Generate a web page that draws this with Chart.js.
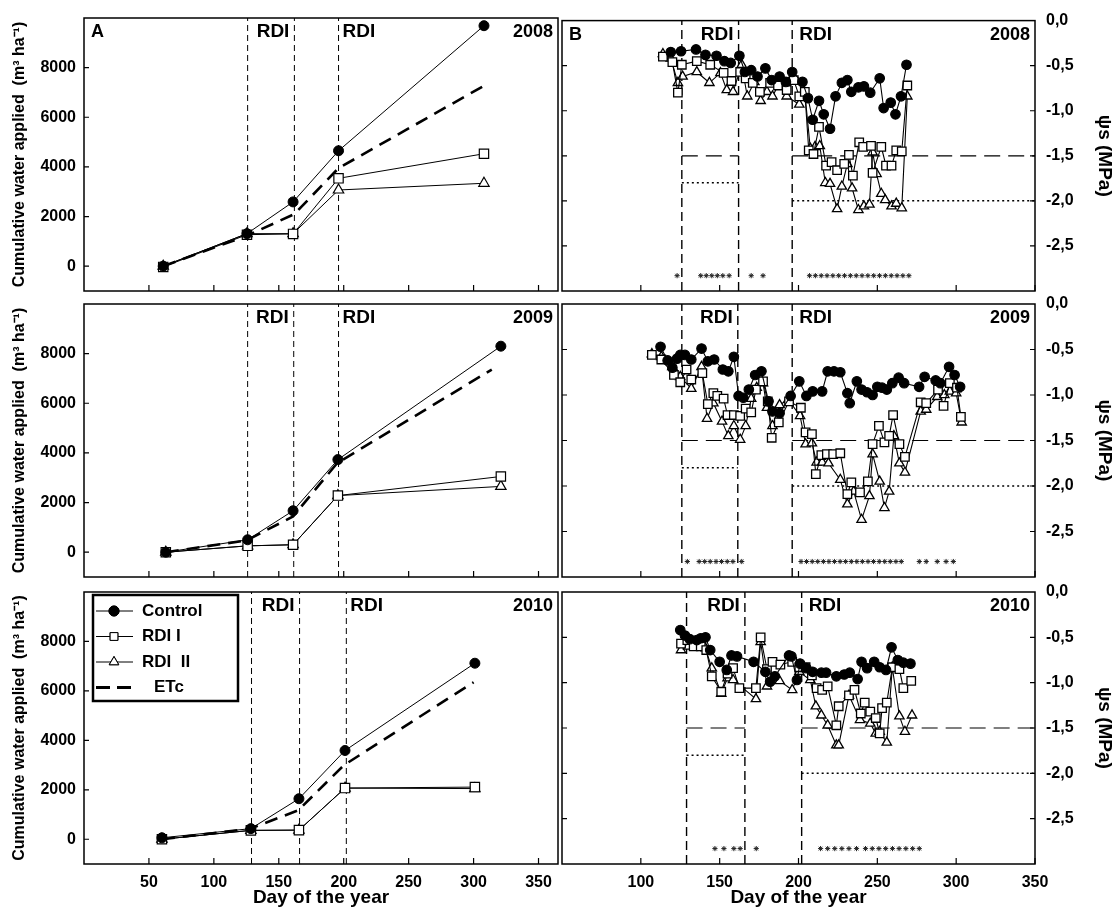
<!DOCTYPE html>
<html>
<head>
<meta charset="utf-8">
<script src="https://cdn.jsdelivr.net/npm/chart.js@4.4.1/dist/chart.umd.min.js"></script>
<style>
  body { margin: 0; background: #fff; }
  #wrap { position: relative; width: 1116px; height: 909px; }
  #wrap canvas { position: absolute; left: 0; top: 0; }
</style>
</head>
<body>
<div id="wrap">
  <canvas id="a2008" width="1116" height="909"></canvas>
  <canvas id="a2009" width="1116" height="909"></canvas>
  <canvas id="a2010" width="1116" height="909"></canvas>
  <canvas id="b2008" width="1116" height="909"></canvas>
  <canvas id="b2009" width="1116" height="909"></canvas>
  <canvas id="b2010" width="1116" height="909"></canvas>
</div>
<script>
// ---- tick labels ----
const leftXTicks = [50, 100, 150, 200, 250, 300, 350];
const leftYTicks = [0, 2000, 4000, 6000, 8000];
const rightXTicks = [100, 150, 200, 250, 300, 350];
const rightYTicks = [0, -0.5, -1, -1.5, -2, -2.5];

// ---- panel A: cumulative water applied (m3/ha) ----
const water2008Days = [61, 125.5, 161, 196, 308];
const water2008Control = [0, 1310, 2590, 4650, 9690];
const water2008RdiI = [-30, 1270, 1300, 3540, 4530];
const water2008RdiII = [0, 1310, 1310, 3070, 3340];
const water2008EtcDays = [61, 125.5, 162, 196, 309];
const water2008Etc = [0, 1230, 2100, 3950, 7300];

const water2009Days = [63, 126, 161, 195.5, 321];
const water2009Control = [0, 500, 1670, 3730, 8300];
const water2009RdiI = [0, 255, 300, 2280, 3050];
const water2009RdiII = [0, 255, 300, 2280, 2650];
const water2009EtcDays = [63, 125, 161, 195, 314];
const water2009Etc = [0, 470, 1440, 3590, 7360];

const water2010Days = [60, 128.5, 165.5, 201, 301];
const water2010Control = [60, 430, 1640, 3590, 7120];
const water2010RdiI = [0, 360, 370, 2070, 2110];
const water2010RdiII = [0, 360, 370, 2070, 2050];
const water2010EtcDays = [60, 128, 165, 200, 300];
const water2010Etc = [0, 430, 1170, 2990, 6350];

// RDI period boundaries (day of year)
const rdi2008 = [126, 162, 196];
const rdi2009 = [126, 161.5, 196];
const rdi2010 = [129, 166, 202];

// ---- panel B: stem water potential (MPa), [day, value] ----
const psi2008Control = [[119,-0.35],[125.5,-0.34],[135,-0.32],[141,-0.38],[148,-0.39],[153,-0.45],[157,-0.47],[162.5,-0.39],[166,-0.57],[170,-0.55],[174,-0.62],[179,-0.53],[183,-0.66],[188,-0.62],[192,-0.68],[196,-0.57],[202.5,-0.68],[206,-0.86],[209,-1.10],[213,-0.89],[216,-1.04],[220,-1.20],[223.5,-0.84],[227.5,-0.69],[231,-0.66],[233.5,-0.79],[238,-0.74],[241.5,-0.73],[245.5,-0.80],[251.5,-0.64],[254,-0.97],[258.5,-0.91],[261.5,-1.04],[265,-0.84],[268.5,-0.49]];
const psi2008RdiI = [[114,-0.40],[120,-0.46],[123.5,-0.80],[126,-0.49],[135.5,-0.45],[144,-0.49],[152.5,-0.58],[157.5,-0.67],[163,-0.57],[166.5,-0.64],[171,-0.69],[175.5,-0.79],[182,-0.69],[187,-0.72],[192.5,-0.77],[197,-0.66],[200.5,-0.84],[204,-0.79],[206.5,-1.44],[209.5,-1.48],[213,-1.18],[217.5,-1.61],[221,-1.57],[224.5,-1.66],[229,-1.59],[232,-1.49],[234.5,-1.72],[238.5,-1.35],[241,-1.40],[246,-1.39],[247,-1.69],[252.5,-1.40],[255.5,-1.61],[259,-1.61],[262,-1.44],[265.5,-1.45],[269,-0.72]];
const psi2008RdiII = [[114,-0.37],[119,-0.42],[123.5,-0.69],[126.5,-0.62],[135.5,-0.57],[143.5,-0.69],[150.5,-0.58],[154.5,-0.77],[158.5,-0.79],[164,-0.49],[167.5,-0.84],[172,-0.68],[176,-0.89],[180,-0.79],[183.5,-0.84],[188,-0.69],[192.5,-0.84],[200.5,-0.93],[204,-0.80],[207.5,-1.42],[210.5,-1.40],[213.5,-1.39],[217,-1.80],[220,-1.81],[224.5,-2.09],[227.5,-1.84],[231,-1.59],[234,-1.86],[238,-2.10],[241.5,-2.06],[245,-2.04],[247,-1.46],[249.5,-1.70],[252.5,-1.92],[255,-1.99],[259,-2.06],[262,-2.03],[265.5,-2.08],[269,-0.84]];

const psi2009Control = [[112.5,-0.47],[117,-0.62],[120,-0.70],[123,-0.60],[125,-0.56],[128,-0.56],[132,-0.61],[138.5,-0.49],[142.5,-0.63],[146.5,-0.61],[152,-0.72],[155.5,-0.74],[159,-0.58],[162,-1.01],[165,-1.03],[168.5,-0.94],[172.5,-0.78],[176.5,-0.74],[181,-1.07],[183.5,-1.18],[188,-1.20],[195,-1.01],[200.5,-0.85],[205,-1.01],[209,-0.96],[215,-0.96],[218.5,-0.74],[222.5,-0.74],[226.5,-0.75],[231,-0.98],[232.5,-1.09],[237,-0.85],[240,-0.94],[243.5,-0.97],[247,-1.00],[250,-0.91],[253,-0.92],[256,-0.94],[259.5,-0.87],[263.5,-0.81],[267,-0.87],[276.5,-0.91],[280,-0.80],[287,-0.84],[290,-0.87],[295.5,-0.69],[299,-0.78],[302.5,-0.91]];
const psi2009RdiI = [[107,-0.56],[113,-0.61],[121,-0.78],[125,-0.86],[129,-0.72],[132,-0.83],[139,-0.76],[142.5,-1.10],[146,-0.98],[148.5,-1.01],[152.5,-1.04],[155,-1.22],[159,-1.22],[163,-1.23],[166.5,-1.15],[170,-1.19],[173,-0.94],[177.5,-0.85],[180.5,-1.07],[183,-1.47],[187.5,-1.30],[194,-1.07],[201.5,-1.14],[204.5,-1.41],[208.5,-1.43],[211,-1.87],[214.5,-1.66],[218,-1.65],[222,-1.65],[226.5,-1.64],[231,-2.09],[233.5,-1.96],[239,-2.07],[244,-1.95],[247,-1.54],[251,-1.34],[254.5,-1.52],[257.5,-1.45],[260,-1.22],[264,-1.54],[267.5,-1.68],[277.5,-1.08],[281,-1.09],[288.5,-0.94],[292,-1.12],[296,-0.87],[300.5,-0.92],[303,-1.24]];
const psi2009RdiII = [[107,-0.55],[113,-0.58],[120,-0.69],[125,-0.80],[132,-0.93],[138.5,-0.69],[142,-1.26],[146,-1.09],[151.5,-1.29],[155.5,-1.45],[159,-1.34],[163,-1.49],[166.5,-1.34],[170,-1.04],[173.5,-0.92],[177.5,-0.87],[180,-1.14],[183.5,-1.34],[188,-1.11],[193.5,-1.05],[201,-1.23],[204.5,-1.54],[208.5,-1.53],[211.5,-1.74],[215,-1.74],[219,-1.75],[226.5,-1.93],[231,-2.20],[235,-2.06],[240,-2.37],[245,-2.11],[247,-1.65],[251.5,-1.95],[254.5,-2.24],[257.5,-2.06],[260.5,-1.45],[264,-1.75],[267.5,-1.85],[277.5,-1.18],[281,-1.16],[288,-1.02],[292.5,-1.00],[296,-0.96],[300,-0.98],[303.5,-1.30]];

const psi2010Control = [[125,-0.42],[128,-0.48],[131,-0.52],[135.5,-0.53],[138,-0.51],[141,-0.50],[144,-0.64],[150,-0.77],[154.5,-0.86],[157.5,-0.70],[161,-0.71],[171.5,-0.77],[179,-0.88],[182,-0.99],[185,-0.93],[194,-0.70],[195.5,-0.71],[199,-0.97],[201,-0.79],[205,-0.84],[209,-0.88],[214.5,-0.89],[217.5,-0.89],[224,-0.93],[229,-0.91],[232.5,-0.89],[237.5,-0.96],[240,-0.77],[243.5,-0.84],[248,-0.77],[251.5,-0.83],[255.5,-0.86],[259,-0.61],[263,-0.75],[266.5,-0.78],[271,-0.79]];
const psi2010RdiI = [[125.5,-0.57],[129.5,-0.53],[133.5,-0.60],[138,-0.60],[141.5,-0.64],[145,-0.93],[151,-1.10],[155,-0.90],[158.5,-0.84],[162.5,-1.06],[173,-1.06],[176,-0.50],[180,-0.85],[183.5,-0.77],[188.5,-0.80],[196,-0.77],[200.5,-0.83],[204.5,-0.83],[208.5,-0.92],[211.5,-1.06],[215,-1.08],[218.5,-1.04],[224,-1.47],[225.5,-1.26],[232,-1.14],[235.5,-1.08],[239.5,-1.34],[242,-1.22],[245.5,-1.32],[249,-1.39],[251.5,-1.56],[253,-1.28],[256,-1.22],[259.5,-0.83],[264,-0.85],[266.5,-1.06],[271.5,-0.98]];
const psi2010RdiII = [[125.5,-0.64],[130,-0.60],[141,-0.62],[145,-0.84],[151,-1.12],[155,-0.95],[158.5,-0.97],[173,-1.18],[176,-0.55],[180,-1.04],[188,-0.98],[196,-1.08],[200.5,-0.88],[207.5,-0.97],[211,-1.26],[214.5,-1.36],[218.5,-1.47],[224,-1.69],[225.5,-1.69],[232,-1.14],[239,-1.41],[245.5,-1.45],[249,-1.56],[251.5,-1.54],[256,-1.66],[259.5,-0.83],[264,-1.37],[267.5,-1.54],[272,-1.36]];

// significance marks (*), day of year
const stars2008 = [123, 138, 141.5, 145, 148.5, 152, 156, 170, 177.5, 207, 210.7, 214.4, 218.1, 221.8, 225.5, 229.2, 232.9, 236.6, 240.3, 244, 247.7, 251.4, 255.1, 258.8, 262.5, 266.2, 270];
const stars2009 = [129.5, 137, 140.5, 144, 147.7, 151.2, 154.8, 158.4, 164, 201.6, 205.1, 208.7, 212.2, 215.8, 219.3, 222.8, 226.4, 229.9, 233.5, 237, 240.5, 244.1, 247.6, 251.2, 254.7, 258.2, 261.8, 265.2, 276.6, 281, 288, 293.6, 298.2];
const stars2010 = [147, 152.7, 159, 163, 173.2, 214, 218.5, 223, 227.5, 232, 236.8, 242.5, 246.8, 251, 255.3, 259.6, 263.8, 268.1, 272.4, 276.6];
const starLevel = -2.83;

// threshold lines: [first RDI period, second RDI period]
const dashedThreshold = [-1.5, -1.5];
const dottedThreshold = [-1.8, -2.0];

// ---- layout ----
const ROWS = [{ top: 18, bottom: 291 }, { top: 304, bottom: 577 }, { top: 592, bottom: 864 }];
const W = 1116, H = 909;
const FONT = '"Liberation Sans", Arial, sans-serif';

Chart.defaults.font.family = FONT;
Chart.defaults.font.weight = 'bold';
Chart.defaults.color = '#000';

function xy(days, vals) {
    return days.map((d, i) => ({ x: d, y: vals[i] }));
}
function pairs(list) {
    return list.map(p => ({ x: p[0], y: p[1] }));
}

function vLine(day, y0, y1, width, dash) {
    return { data: [{ x: day, y: y0 }, { x: day, y: y1 }], showLine: true, borderColor: '#000',
        borderWidth: width, borderDash: dash, pointRadius: 0, order: 10 };
}

const markerStyles = {
    control: { pointStyle: 'circle', backgroundColor: '#000' },
    rdiI: { pointStyle: 'rect', backgroundColor: '#fff' },
    rdiII: { pointStyle: 'triangle', backgroundColor: '#fff' }
};

function deco(opts) {
    return {
        id: 'deco',
        afterDatasetsDraw(chart) {
            const { ctx, chartArea: a, scales } = chart;
            const x = scales.x, y = scales.y;
            ctx.save();
            ctx.strokeStyle = '#000';
            ctx.fillStyle = '#000';
            // inner tick marks
            ctx.lineWidth = 1.2;
            ctx.beginPath();
            opts.xTicks.forEach(t => {
                const px = x.getPixelForValue(t);
                ctx.moveTo(px, a.bottom); ctx.lineTo(px, a.bottom - 6);
            });
            opts.yTicks.forEach(t => {
                const py = y.getPixelForValue(t);
                if (opts.tickLeft) { ctx.moveTo(a.left, py); ctx.lineTo(a.left + 5, py); }
                if (opts.tickRight) { ctx.moveTo(a.right, py); ctx.lineTo(a.right - 5, py); }
            });
            ctx.stroke();
            // frame
            ctx.lineWidth = 1.5;
            ctx.strokeRect(a.left, a.top, a.right - a.left, a.bottom - a.top);
            // labels
            const ty = a.top + 14;
            ctx.textBaseline = 'middle';
            ctx.font = 'bold 19px ' + FONT;
            ctx.textAlign = 'right';
            ctx.fillText('RDI', x.getPixelForValue(opts.rdi[1]) - 5, ty);
            ctx.textAlign = 'left';
            ctx.fillText('RDI', x.getPixelForValue(opts.rdi[2]) + opts.rdiGap, ty);
            ctx.font = 'bold 18px ' + FONT;
            ctx.textAlign = 'right';
            ctx.fillText(opts.year, a.right - 5, ty);
            if (opts.letter) {
                ctx.textAlign = 'left';
                ctx.fillText(opts.letter, a.left + 7, ty);
            }
            if (opts.legend) drawLegend(ctx, a);
            ctx.restore();
        }
    };
}

function drawLegend(ctx, a) {
    const bx = a.left + 9, by = a.top + 3, bw = 145, bh = 106;
    ctx.lineWidth = 2.5;
    ctx.strokeRect(bx, by, bw, bh);
    const items = [
        { label: 'Control', style: 'control' },
        { label: 'RDI I', style: 'rdiI' },
        { label: 'RDI  II', style: 'rdiII' },
        { label: 'ETc', style: 'etc' }
    ];
    ctx.font = 'bold 17px ' + FONT;
    ctx.textAlign = 'left';
    ctx.textBaseline = 'middle';
    items.forEach((it, i) => {
        const cy = by + 16 + i * 25.5;
        const x0 = bx + 3, x1 = bx + 40, mx = bx + 21;
        ctx.beginPath();
        if (it.style === 'etc') {
            ctx.lineWidth = 3;
            ctx.setLineDash([14, 7]);
            ctx.moveTo(x0, cy); ctx.lineTo(x1 + 2, cy);
            ctx.stroke();
            ctx.setLineDash([]);
            ctx.fillStyle = '#000';
            ctx.fillText(it.label, bx + 61, cy);
            return;
        }
        ctx.lineWidth = 1;
        ctx.moveTo(x0, cy); ctx.lineTo(x1, cy);
        ctx.stroke();
        const ms = markerStyles[it.style];
        Chart.helpers.drawPoint(ctx, {
            pointStyle: ms.pointStyle, radius: it.style === 'control' ? 5 : 5.5,
            borderWidth: 1, rotation: 0
        }, mx, cy);
        ctx.fillStyle = ms.backgroundColor;
        ctx.fill();
        ctx.stroke();
        ctx.fillStyle = '#000';
        ctx.fillText(it.label, bx + 49, cy);
    });
}

function buildLeft(id, row, year, letter, rdi, days, control, rdiI, rdiII, etcDays, etc, bottomRow, legend) {
    const r = ROWS[row];
    const xH = bottomRow ? 45 : 0;
    const datasets = rdi.map(d => vLine(d, -1000, 10000, 1, [6, 4]));
    datasets.push({ data: xy(etcDays, etc), showLine: true, borderColor: '#000', borderWidth: 2.6,
        borderDash: [13, 8], pointRadius: 0, order: 5 });
    datasets.push({ data: xy(days, rdiII), showLine: true, borderColor: '#000', borderWidth: 1,
        pointStyle: 'triangle', pointRadius: 6, pointBackgroundColor: '#fff', pointBorderColor: '#000', pointBorderWidth: 1.2, order: 3 });
    datasets.push({ data: xy(days, rdiI), showLine: true, borderColor: '#000', borderWidth: 1,
        pointStyle: 'rect', pointRadius: 6.6, pointBackgroundColor: '#fff', pointBorderColor: '#000', pointBorderWidth: 1.2, order: 2 });
    datasets.push({ data: xy(days, control), showLine: true, borderColor: '#000', borderWidth: 1,
        pointStyle: 'circle', pointRadius: 5, pointBackgroundColor: '#000', pointBorderColor: '#000', order: 1 });

    new Chart(document.getElementById(id), {
        type: 'scatter',
        data: { datasets },
        options: {
            responsive: false, animation: false, events: [],
            layout: { padding: { left: 0, right: W - 558, top: r.top, bottom: H - r.bottom - xH } },
            plugins: { legend: { display: false }, tooltip: { enabled: false } },
            scales: {
                x: {
                    type: 'linear', min: 0, max: 365,
                    grid: { display: false, drawTicks: false }, border: { display: false },
                    afterBuildTicks: s => { s.ticks = leftXTicks.map(v => ({ value: v })); },
                    ticks: { display: bottomRow, padding: 9, font: { size: 16, weight: 'bold' }, maxRotation: 0,
                        callback: v => String(v) },
                    title: { display: bottomRow, text: 'Day of the year', font: { size: 19, weight: 'bold' }, padding: 0 },
                    afterFit: s => { s.height = xH; }
                },
                y: {
                    type: 'linear', min: -1000, max: 10000,
                    grid: { display: false, drawTicks: false }, border: { display: false },
                    afterBuildTicks: s => { s.ticks = leftYTicks.map(v => ({ value: v })); },
                    ticks: { padding: 8, font: { size: 16, weight: 'bold' }, callback: v => String(v) },
                    title: { display: true, text: 'Cumulative water applied  (m³ ha⁻¹)', font: { size: 16, weight: 'bold' }, padding: { top: 10, bottom: 0 } },
                    afterFit: s => { s.width = 84; }
                }
            }
        },
        plugins: [deco({ xTicks: leftXTicks, yTicks: leftYTicks, tickLeft: true, tickRight: false,
            rdi, rdiGap: 4, year, letter, legend })]
    });
}

function buildRight(id, row, year, letter, rdi, control, rdiI, rdiII, stars, bottomRow) {
    const r = ROWS[row];
    const xH = bottomRow ? 45 : 0;
    const datasets = rdi.map(d => vLine(d, -3, 0, 1.4, [9, 5]));
    // thresholds for the two RDI periods
    datasets.push({ data: [{ x: rdi[0], y: dashedThreshold[0] }, { x: rdi[1], y: dashedThreshold[0] }], showLine: true,
        borderColor: '#000', borderWidth: 1.2, borderDash: [16, 8], pointRadius: 0, order: 9 });
    datasets.push({ data: [{ x: rdi[2], y: dashedThreshold[1] }, { x: 350, y: dashedThreshold[1] }], showLine: true,
        borderColor: '#000', borderWidth: 1.2, borderDash: [16, 8], pointRadius: 0, order: 9 });
    datasets.push({ data: [{ x: rdi[0], y: dottedThreshold[0] }, { x: rdi[1], y: dottedThreshold[0] }], showLine: true,
        borderColor: '#000', borderWidth: 1.5, borderDash: [2, 3], pointRadius: 0, order: 9 });
    datasets.push({ data: [{ x: rdi[2], y: dottedThreshold[1] }, { x: 350, y: dottedThreshold[1] }], showLine: true,
        borderColor: '#000', borderWidth: 1.5, borderDash: [2, 3], pointRadius: 0, order: 9 });
    datasets.push({ data: stars.map(d => ({ x: d, y: starLevel })), showLine: false,
        pointStyle: 'star', pointRadius: 2.6, pointBorderColor: '#222', pointBorderWidth: 1, order: 8 });
    datasets.push({ data: pairs(rdiII), showLine: true, borderColor: '#000', borderWidth: 1.1,
        pointStyle: 'triangle', pointRadius: 5.4, pointBackgroundColor: '#fff', pointBorderColor: '#000', pointBorderWidth: 1.3, order: 3 });
    datasets.push({ data: pairs(rdiI), showLine: true, borderColor: '#000', borderWidth: 1.1,
        pointStyle: 'rect', pointRadius: 6, pointBackgroundColor: '#fff', pointBorderColor: '#000', pointBorderWidth: 1.3, order: 2 });
    datasets.push({ data: pairs(control), showLine: true, borderColor: '#000', borderWidth: 1.1,
        pointStyle: 'circle', pointRadius: 4.8, pointBackgroundColor: '#000', pointBorderColor: '#000', order: 1 });

    new Chart(document.getElementById(id), {
        type: 'scatter',
        data: { datasets },
        options: {
            responsive: false, animation: false, events: [],
            layout: { padding: { left: 562, right: 0, top: r.top, bottom: H - r.bottom - xH } },
            plugins: { legend: { display: false }, tooltip: { enabled: false } },
            scales: {
                x: {
                    type: 'linear', min: 50, max: 350,
                    grid: { display: false, drawTicks: false }, border: { display: false },
                    afterBuildTicks: s => { s.ticks = rightXTicks.map(v => ({ value: v })); },
                    ticks: { display: bottomRow, padding: 9, font: { size: 16, weight: 'bold' }, maxRotation: 0,
                        callback: v => String(v) },
                    title: { display: bottomRow, text: 'Day of the year', font: { size: 19, weight: 'bold' }, padding: 0 },
                    afterFit: s => { s.height = xH; }
                },
                y: {
                    type: 'linear', position: 'right', min: -3, max: 0,
                    grid: { display: false, drawTicks: false }, border: { display: false },
                    afterBuildTicks: s => { s.ticks = rightYTicks.map(v => ({ value: v })); },
                    ticks: { padding: 11, font: { size: 16, weight: 'bold' },
                        callback: v => (v === 0 ? '0,0' : v.toFixed(1).replace('.', ',')) },
                    title: { display: true, text: 'ψs (MPa)', font: { size: 19, weight: 'bold' }, padding: 0 },
                    afterFit: s => { s.width = W - 1035; }
                }
            }
        },
        plugins: [deco({ xTicks: rightXTicks, yTicks: rightYTicks.slice(1), tickLeft: true, tickRight: true,
            rdi, rdiGap: 7, year, letter })]
    });
}

buildLeft('a2008', 0, '2008', 'A', rdi2008, water2008Days, water2008Control, water2008RdiI, water2008RdiII, water2008EtcDays, water2008Etc, false, false);
buildLeft('a2009', 1, '2009', '', rdi2009, water2009Days, water2009Control, water2009RdiI, water2009RdiII, water2009EtcDays, water2009Etc, false, false);
buildLeft('a2010', 2, '2010', '', rdi2010, water2010Days, water2010Control, water2010RdiI, water2010RdiII, water2010EtcDays, water2010Etc, true, true);

buildRight('b2008', 0, '2008', 'B', rdi2008, psi2008Control, psi2008RdiI, psi2008RdiII, stars2008, false);
buildRight('b2009', 1, '2009', '', rdi2009, psi2009Control, psi2009RdiI, psi2009RdiII, stars2009, false);
buildRight('b2010', 2, '2010', '', rdi2010, psi2010Control, psi2010RdiI, psi2010RdiII, stars2010, true);
</script>
</body>
</html>
